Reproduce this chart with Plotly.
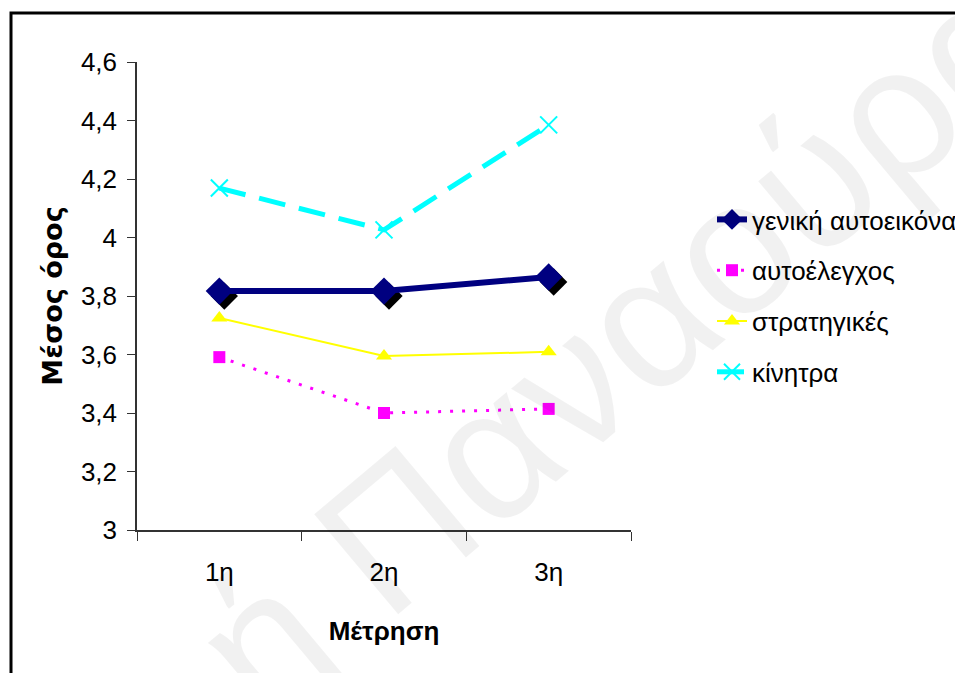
import plotly.graph_objects as go

# ---- data ----
categories = ["1η", "2η", "3η"]
series_names = ["γενική αυτοεικόνα", "αυτοέλεγχος", "στρατηγικές", "κίνητρα"]
geniki = [3.817, 3.817, 3.865]
autoelegxos = [3.591, 3.400, 3.414]
stratigikes = [3.725, 3.595, 3.609]
kinitra = [4.169, 4.026, 4.385]
y_ticks = [3, 3.2, 3.4, 3.6, 3.8, 4, 4.2, 4.4, 4.6]
x_title = "Μέτρηση"
y_title = "Μέσος όρος"
watermark = "ή Παναούρα"

# ---- layout constants ----
W, H = 955, 673
L, R, T, B = 137, 324, 62, 143
PW, PH = W - L - R, H - T - B
Y_RANGE = [3, 4.6]
X_RANGE = [-0.5, 2.5]
SHADOW_PX = 5
dx = SHADOW_PX / (PW / 3)
dy = SHADOW_PX / (PH / (Y_RANGE[1] - Y_RANGE[0]))

FONT = "Liberation Sans, Arial, sans-serif"

fig = go.Figure()

# shadow for diamond markers (base subplot, drawn below)
fig.add_trace(go.Scatter(
    x=categories, y=geniki, mode="markers", xaxis="x", yaxis="y",
    marker=dict(symbol="diamond", size=21, color="black"),
    showlegend=False, hoverinfo="skip"))

styles = [
    dict(line=dict(color="#000080", width=6),
         marker=dict(symbol="diamond", size=21, color="#000080")),
    dict(line=dict(color="#FF00FF", width=3, dash="3px,9px"),
         marker=dict(symbol="square", size=12, color="#FF00FF")),
    dict(line=dict(color="#FFFF00", width=2),
         marker=dict(symbol="triangle-up", size=14, color="#FFFF00")),
    dict(line=dict(color="#00FFFF", width=5, dash="27px,14px"),
         marker=dict(symbol="x-thin-open", size=17, color="#00FFFF",
                     line=dict(color="#00FFFF", width=2))),
]
values = [geniki, autoelegxos, stratigikes, kinitra]
for name, vals, st in zip(series_names, values, styles):
    fig.add_trace(go.Scatter(
        x=categories, y=vals, name=name, mode="lines+markers",
        xaxis="x2", yaxis="y2", legendgroup=name, **st))

fig.update_layout(
    width=W, height=H,
    margin=dict(l=L, r=R, t=T, b=B, autoexpand=False),
    paper_bgcolor="white", plot_bgcolor="rgba(0,0,0,0)",
    separators=",.",
    font=dict(family=FONT, size=26, color="black"),
    showlegend=True,
    legend=dict(x=(712 - L) / PW, xanchor="left",
                y=(H - B - 196) / PH, yanchor="top",
                font=dict(family=FONT, size=26, color="black"),
                tracegroupgap=14, bgcolor="rgba(0,0,0,0)",
                itemwidth=30),
    xaxis=dict(type="category", range=[X_RANGE[0] - dx, X_RANGE[1] - dx],
               visible=False, fixedrange=True),
    yaxis=dict(range=[Y_RANGE[0] + dy, Y_RANGE[1] + dy], visible=False,
               fixedrange=True),
    xaxis2=dict(type="category", overlaying="x", range=X_RANGE,
                tickson="boundaries", ticks="outside", ticklen=9,
                tickcolor="#333", showline=True, linecolor="#333",
                linewidth=1.5, showgrid=False, zeroline=False,
                ticklabelstandoff=18,
                tickfont=dict(family=FONT, size=26),
                title=dict(text=x_title, standoff=36,
                           font=dict(family=FONT, size=26, weight="bold"))),
    yaxis2=dict(overlaying="y", range=Y_RANGE, tickvals=y_ticks,
                ticks="outside", ticklen=8, tickcolor="#333",
                showline=True, linecolor="#333", linewidth=1.5,
                showgrid=False, zeroline=False, ticklabelstandoff=5,
                tickfont=dict(family=FONT, size=26),
                title=dict(text=y_title, standoff=10,
                           font=dict(family="DejaVu Sans, Verdana, sans-serif",
                                     size=27, weight="bold"))),
)

# outer frame (cut by the page on right and bottom)
fig.add_shape(type="rect", xref="paper", yref="paper",
              x0=(11 - L) / PW, x1=(1000 - L) / PW,
              y0=-0.6, y1=(H - B - 13) / PH,
              line=dict(color="black", width=3), layer="below")

# faint watermark
fig.add_annotation(text=watermark, xref="paper", yref="paper",
                   x=(620 - L) / PW, y=(H - B - 342) / PH,
                   xanchor="center", yanchor="middle",
                   showarrow=False, textangle=-40,
                   font=dict(family=FONT, size=190, color="rgba(0,0,0,0.055)"))

fig.write_html("out.html")
